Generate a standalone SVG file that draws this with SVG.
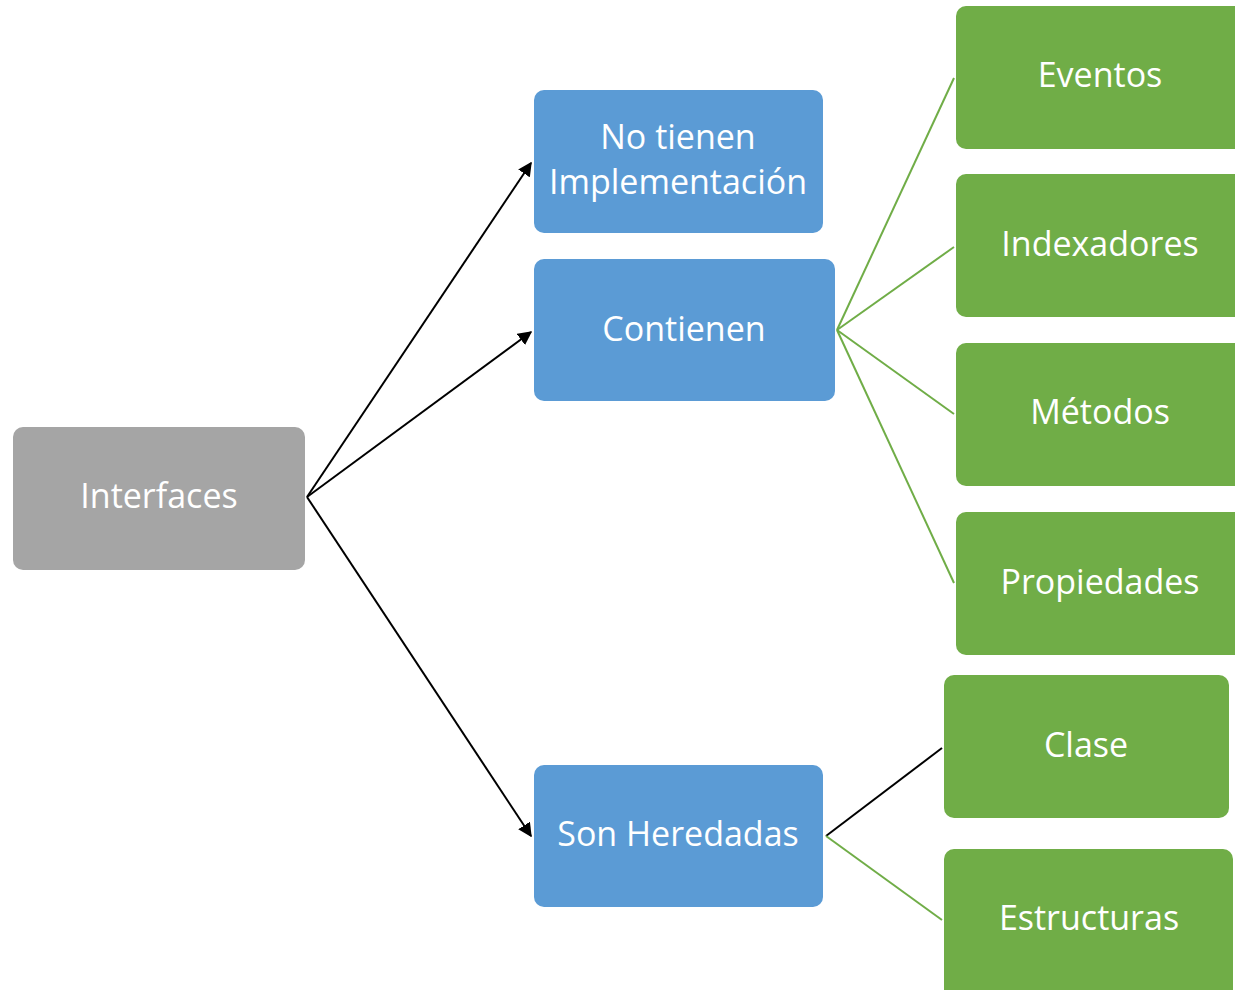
<svg xmlns="http://www.w3.org/2000/svg" width="1235" height="990" viewBox="0 0 1235 990">
<style>
.lbl{font-family:"Open Sans","Noto Sans",sans-serif;font-size:34px;fill:#ffffff;text-anchor:middle}
.gray{fill:#A5A5A5}
.blue{fill:#5B9BD5}
.green{fill:#70AD47}
.blk{stroke:#000000;stroke-width:2;fill:none}
.grn{stroke:#70AD47;stroke-width:2;fill:none}
</style>
<defs>
<marker id="arr" viewBox="0 0 10 10" refX="9" refY="5" markerWidth="7" markerHeight="7" markerUnits="strokeWidth" orient="auto">
<path d="M0,0 L10,5 L0,10 z" fill="#000000"/>
</marker>
</defs>
<rect width="1235" height="990" fill="#ffffff"/>
<g id="connectors">
<line class="blk" x1="307" y1="497" x2="531" y2="163" marker-end="url(#arr)"/>
<line class="blk" x1="307" y1="497" x2="531" y2="332" marker-end="url(#arr)"/>
<line class="blk" x1="307" y1="497" x2="531" y2="836" marker-end="url(#arr)"/>
<line class="grn" x1="837" y1="330" x2="954" y2="78"/>
<line class="grn" x1="837" y1="330" x2="954" y2="247"/>
<line class="grn" x1="837" y1="330" x2="954" y2="414"/>
<line class="grn" x1="837" y1="330" x2="954" y2="583"/>
<line class="blk" x1="826" y1="836" x2="942" y2="748"/>
<line class="grn" x1="826" y1="836" x2="942" y2="920"/>
</g>
<g id="interfaces"><rect class="gray" x="13" y="427" width="292" height="143" rx="10"/><text class="lbl" x="159" y="508">Interfaces</text></g>
<g id="no-tienen"><rect class="blue" x="534" y="90" width="289" height="143" rx="10"/><text class="lbl" x="678" y="149">No tienen</text><text class="lbl" x="678" y="194">Implementación</text></g>
<g id="contienen"><rect class="blue" x="534" y="259" width="301" height="142" rx="10"/><text class="lbl" x="684" y="341">Contienen</text></g>
<g id="son-heredadas"><rect class="blue" x="534" y="765" width="289" height="142" rx="10"/><text class="lbl" x="678" y="846">Son Heredadas</text></g>
<g id="eventos"><rect class="green" x="956" y="6" width="300" height="143" rx="10"/><text class="lbl" x="1100" y="87">Eventos</text></g>
<g id="indexadores"><rect class="green" x="956" y="174" width="300" height="143" rx="10"/><text class="lbl" x="1100" y="256">Indexadores</text></g>
<g id="metodos"><rect class="green" x="956" y="343" width="300" height="143" rx="10"/><text class="lbl" x="1100" y="424">Métodos</text></g>
<g id="propiedades"><rect class="green" x="956" y="512" width="300" height="143" rx="10"/><text class="lbl" x="1100" y="594">Propiedades</text></g>
<g id="clase"><rect class="green" x="944" y="675" width="285" height="143" rx="10"/><text class="lbl" x="1086" y="757">Clase</text></g>
<g id="estructuras"><rect class="green" x="944" y="849" width="289" height="160" rx="10"/><text class="lbl" x="1089" y="930">Estructuras</text></g>
</svg>
